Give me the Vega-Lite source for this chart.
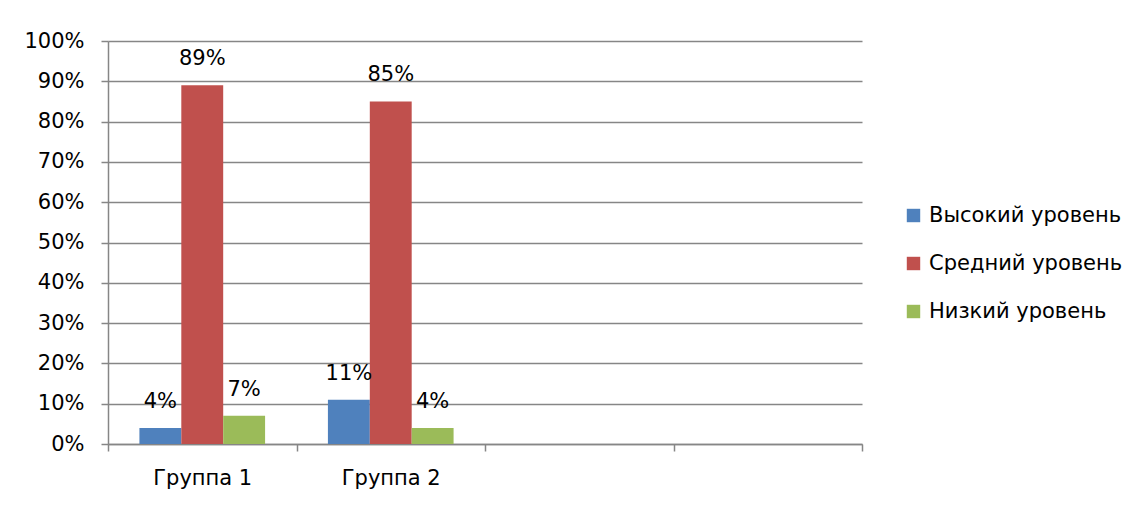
{
  "$schema": "https://vega.github.io/schema/vega-lite/v6.json",
  "width": 754,
  "height": 403,
  "autosize": {"type": "none"},
  "padding": {"left": 108, "top": 41, "right": 278, "bottom": 62},
  "background": "white",
  "config": {"view": {"stroke": null}, "font": "DejaVu Sans"},
  "data": {
    "values": [
      {"group": "Группа 1", "level": "Высокий уровень", "value": 0.04},
      {"group": "Группа 1", "level": "Средний уровень", "value": 0.89},
      {"group": "Группа 1", "level": "Низкий уровень", "value": 0.07},
      {"group": "Группа 2", "level": "Высокий уровень", "value": 0.11},
      {"group": "Группа 2", "level": "Средний уровень", "value": 0.85},
      {"group": "Группа 2", "level": "Низкий уровень", "value": 0.04}
    ]
  },
  "encoding": {
    "x": {
      "field": "group",
      "type": "nominal",
      "sort": null,
      "scale": {"domain": ["Группа 1", "Группа 2", "c3", "c4"], "paddingInner": 0, "paddingOuter": 0},
      "axis": {
        "title": null,
        "labelAngle": 0,
        "tickBand": "extent",
        "labelExpr": "indexof(datum.label, 'Группа') >= 0 ? datum.label : ''",
        "domainColor": "#868686",
        "domainWidth": 1.5,
        "tickColor": "#868686",
        "tickWidth": 1.5,
        "tickSize": 7,
        "labelFontSize": 21,
        "labelColor": "#000000",
        "labelPadding": 16,
        "grid": false
      }
    },
    "xOffset": {
      "field": "level",
      "type": "nominal",
      "sort": null,
      "scale": {"domain": ["Высокий уровень", "Средний уровень", "Низкий уровень"], "paddingInner": 0, "paddingOuter": 0.75}
    },
    "y": {
      "field": "value",
      "type": "quantitative",
      "scale": {"domain": [0, 1]},
      "axis": {
        "title": null,
        "format": ".0%",
        "values": [0, 0.1, 0.2, 0.3, 0.4, 0.5, 0.6, 0.7, 0.8, 0.9, 1],
        "grid": true,
        "gridColor": "#868686",
        "gridWidth": 1.5,
        "domainColor": "#868686",
        "domainWidth": 1.5,
        "tickColor": "#868686",
        "tickWidth": 1.5,
        "tickSize": 7,
        "labelFontSize": 21,
        "labelColor": "#000000",
        "labelPadding": 17
      }
    }
  },
  "layer": [
    {
      "mark": {"type": "bar"},
      "encoding": {
        "color": {
          "field": "level",
          "type": "nominal",
          "sort": null,
          "scale": {
            "domain": ["Высокий уровень", "Средний уровень", "Низкий уровень"],
            "range": ["#4F81BD", "#C0504D", "#9BBB59"]
          },
          "legend": {
            "title": null,
            "orient": "none",
            "legendX": 795,
            "legendY": 164,
            "symbolType": "square",
            "symbolSize": 180,
            "symbolStrokeWidth": 0,
            "labelFontSize": 21,
            "labelColor": "#000000",
            "labelOffset": 5,
            "rowPadding": 26,
            "labelLimit": 300
          }
        }
      }
    },
    {
      "mark": {"type": "text", "dy": -26, "fontSize": 21, "color": "#000000", "baseline": "middle"},
      "encoding": {
        "text": {"field": "value", "type": "quantitative", "format": ".0%"}
      }
    }
  ]
}
